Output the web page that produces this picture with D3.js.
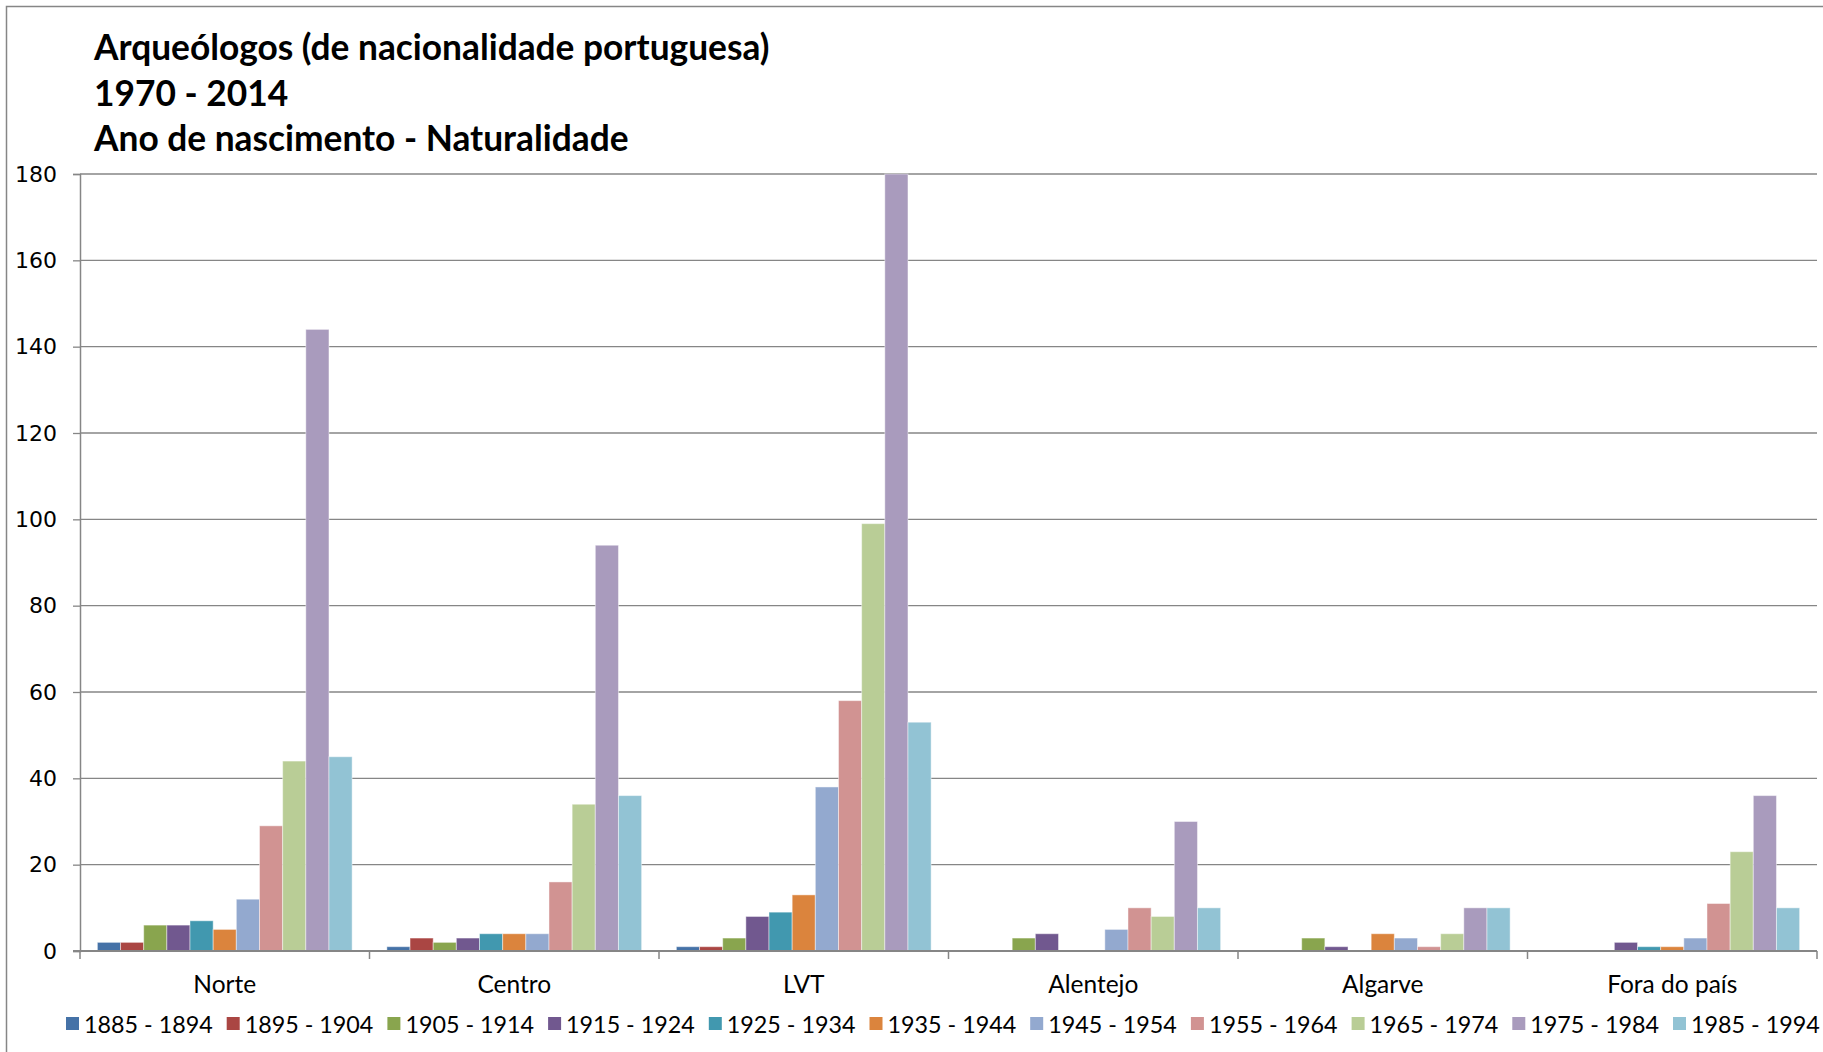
<!DOCTYPE html>
<html>
<head>
<meta charset="utf-8">
<script src="https://cdn.jsdelivr.net/npm/d3@7"></script>
<style>
  body { margin: 0; background: #fff; }
  svg { display: block; }
</style>
</head>
<body>
<svg width="1823" height="1052"></svg>
<script>
const categories = ['Norte', 'Centro', 'LVT', 'Alentejo', 'Algarve', 'Fora do país'];
const series = ['1885 - 1894', '1895 - 1904', '1905 - 1914', '1915 - 1924', '1925 - 1934',
    '1935 - 1944', '1945 - 1954', '1955 - 1964', '1965 - 1974', '1975 - 1984', '1985 - 1994'];
const colors = ['#4572A7', '#AA4643', '#89A54E', '#71588F', '#4198AF', '#DB843D',
    '#93A9CF', '#D19392', '#B9CD96', '#A99BBD', '#92C3D4'];

// one row per category, one value per birth cohort
const norte = [2, 2, 6, 6, 7, 5, 12, 29, 44, 144, 45];
const centro = [1, 3, 2, 3, 4, 4, 4, 16, 34, 94, 36];
const lvt = [1, 1, 3, 8, 9, 13, 38, 58, 99, 180, 53];
const alentejo = [0, 0, 3, 4, 0, 0, 5, 10, 8, 30, 10];
const algarve = [0, 0, 3, 1, 0, 4, 3, 1, 4, 10, 10];
const fora = [0, 0, 0, 2, 1, 1, 3, 11, 23, 36, 10];
const yTicks = [0, 20, 40, 60, 80, 100, 120, 140, 160, 180];

const titleLines = ['Arqueólogos (de nacionalidade portuguesa)', '1970 - 2014', 'Ano de nascimento - Naturalidade'];

const values = [norte, centro, lvt, alentejo, algarve, fora];

const svg = d3.select('svg');
const font = 'Lato, Calibri, sans-serif';

// chart border
svg.append('rect')
    .attr('x', 6.5).attr('y', 6.5)
    .attr('width', 1900).attr('height', 1100)
    .attr('fill', 'none')
    .attr('stroke', '#868686')
    .attr('stroke-width', 1.5);

const plotLeft = 80, plotRight = 1817, plotTop = 174, plotBottom = 951;

const x = d3.scaleBand()
    .domain(categories)
    .range([plotLeft, plotRight]);

const inner = d3.scaleBand()
    .domain(series)
    .range([0, x.bandwidth()])
    .paddingOuter(0.75)
    .paddingInner(0);

const y = d3.scaleLinear()
    .domain([0, 180])
    .range([plotBottom, plotTop]);

// gridlines
svg.append('g')
  .selectAll('line')
  .data(yTicks.slice(1))
  .join('line')
    .attr('x1', plotLeft).attr('x2', plotRight)
    .attr('y1', d => y(d)).attr('y2', d => y(d))
    .attr('stroke', '#868686')
    .attr('stroke-width', 1.3);

// y axis
const yAxis = svg.append('g')
    .attr('transform', `translate(${ plotLeft }, 0)`)
    .call(d3.axisLeft(y).tickValues(yTicks).tickSize(7).tickPadding(16));
yAxis.select('.domain').attr('stroke', '#868686').attr('stroke-width', 1.5);
yAxis.selectAll('.tick line').attr('stroke', '#868686').attr('stroke-width', 1.3);
yAxis.selectAll('.tick text')
    .attr('font-family', 'DejaVu Sans, Verdana, sans-serif')
    .attr('font-size', 22)
    .attr('fill', '#000');

// bars
const groups = svg.append('g')
  .selectAll('g')
  .data(categories)
  .join('g')
    .attr('transform', d => `translate(${ x(d) }, 0)`);

groups.selectAll('rect')
  .data((c, i) => values[i].map((v, j) => ({ s: series[j], v, c: colors[j] })))
  .join('rect')
    .attr('x', d => inner(d.s))
    .attr('width', inner.bandwidth())
    .attr('y', d => y(d.v))
    .attr('height', d => y(0) - y(d.v))
    .attr('fill', d => d.c)
    .attr('stroke', d => d.v > 0 ? 'rgba(255,255,255,0.45)' : 'none')
    .attr('stroke-width', 1);

// x axis
const xAxis = svg.append('g')
    .attr('transform', `translate(0, ${ plotBottom })`)
    .call(d3.axisBottom(x).tickSize(0).tickPadding(25));
xAxis.select('.domain').attr('stroke', '#868686').attr('stroke-width', 2.2)
    .attr('d', `M${ plotLeft - 7 },0H${ plotRight }`);
xAxis.selectAll('.tick text')
    .attr('font-family', font)
    .attr('font-size', 24.5)
    .attr('fill', '#000');
svg.append('g')
  .selectAll('line')
  .data(categories.concat(['end']))
  .join('line')
    .attr('x1', (d, i) => plotLeft + i * x.step())
    .attr('x2', (d, i) => plotLeft + i * x.step())
    .attr('y1', plotBottom).attr('y2', plotBottom + 8)
    .attr('stroke', '#868686')
    .attr('stroke-width', 1.5);

// title
svg.append('text')
    .attr('font-family', font)
    .attr('font-weight', 'bold')
    .attr('font-size', 35.3)
    .attr('fill', '#000')
  .selectAll('tspan')
  .data(titleLines)
  .join('tspan')
    .attr('x', 94)
    .attr('y', (d, i) => 60 + i * 45.5)
    .text(d => d);

// legend
const legendX = d3.scaleBand()
    .domain(series)
    .range([66, 66 + 11 * 160.7]);

const legend = svg.append('g')
  .selectAll('g')
  .data(series)
  .join('g')
    .attr('transform', d => `translate(${ legendX(d) }, 1033)`);

legend.append('rect')
    .attr('x', 0).attr('y', -16)
    .attr('width', 13).attr('height', 13)
    .attr('fill', (d, i) => colors[i]);

legend.append('text')
    .attr('x', 18)
    .attr('font-family', font)
    .attr('font-size', 23.3)
    .attr('fill', '#000')
    .text(d => d);
</script>
</body>
</html>
